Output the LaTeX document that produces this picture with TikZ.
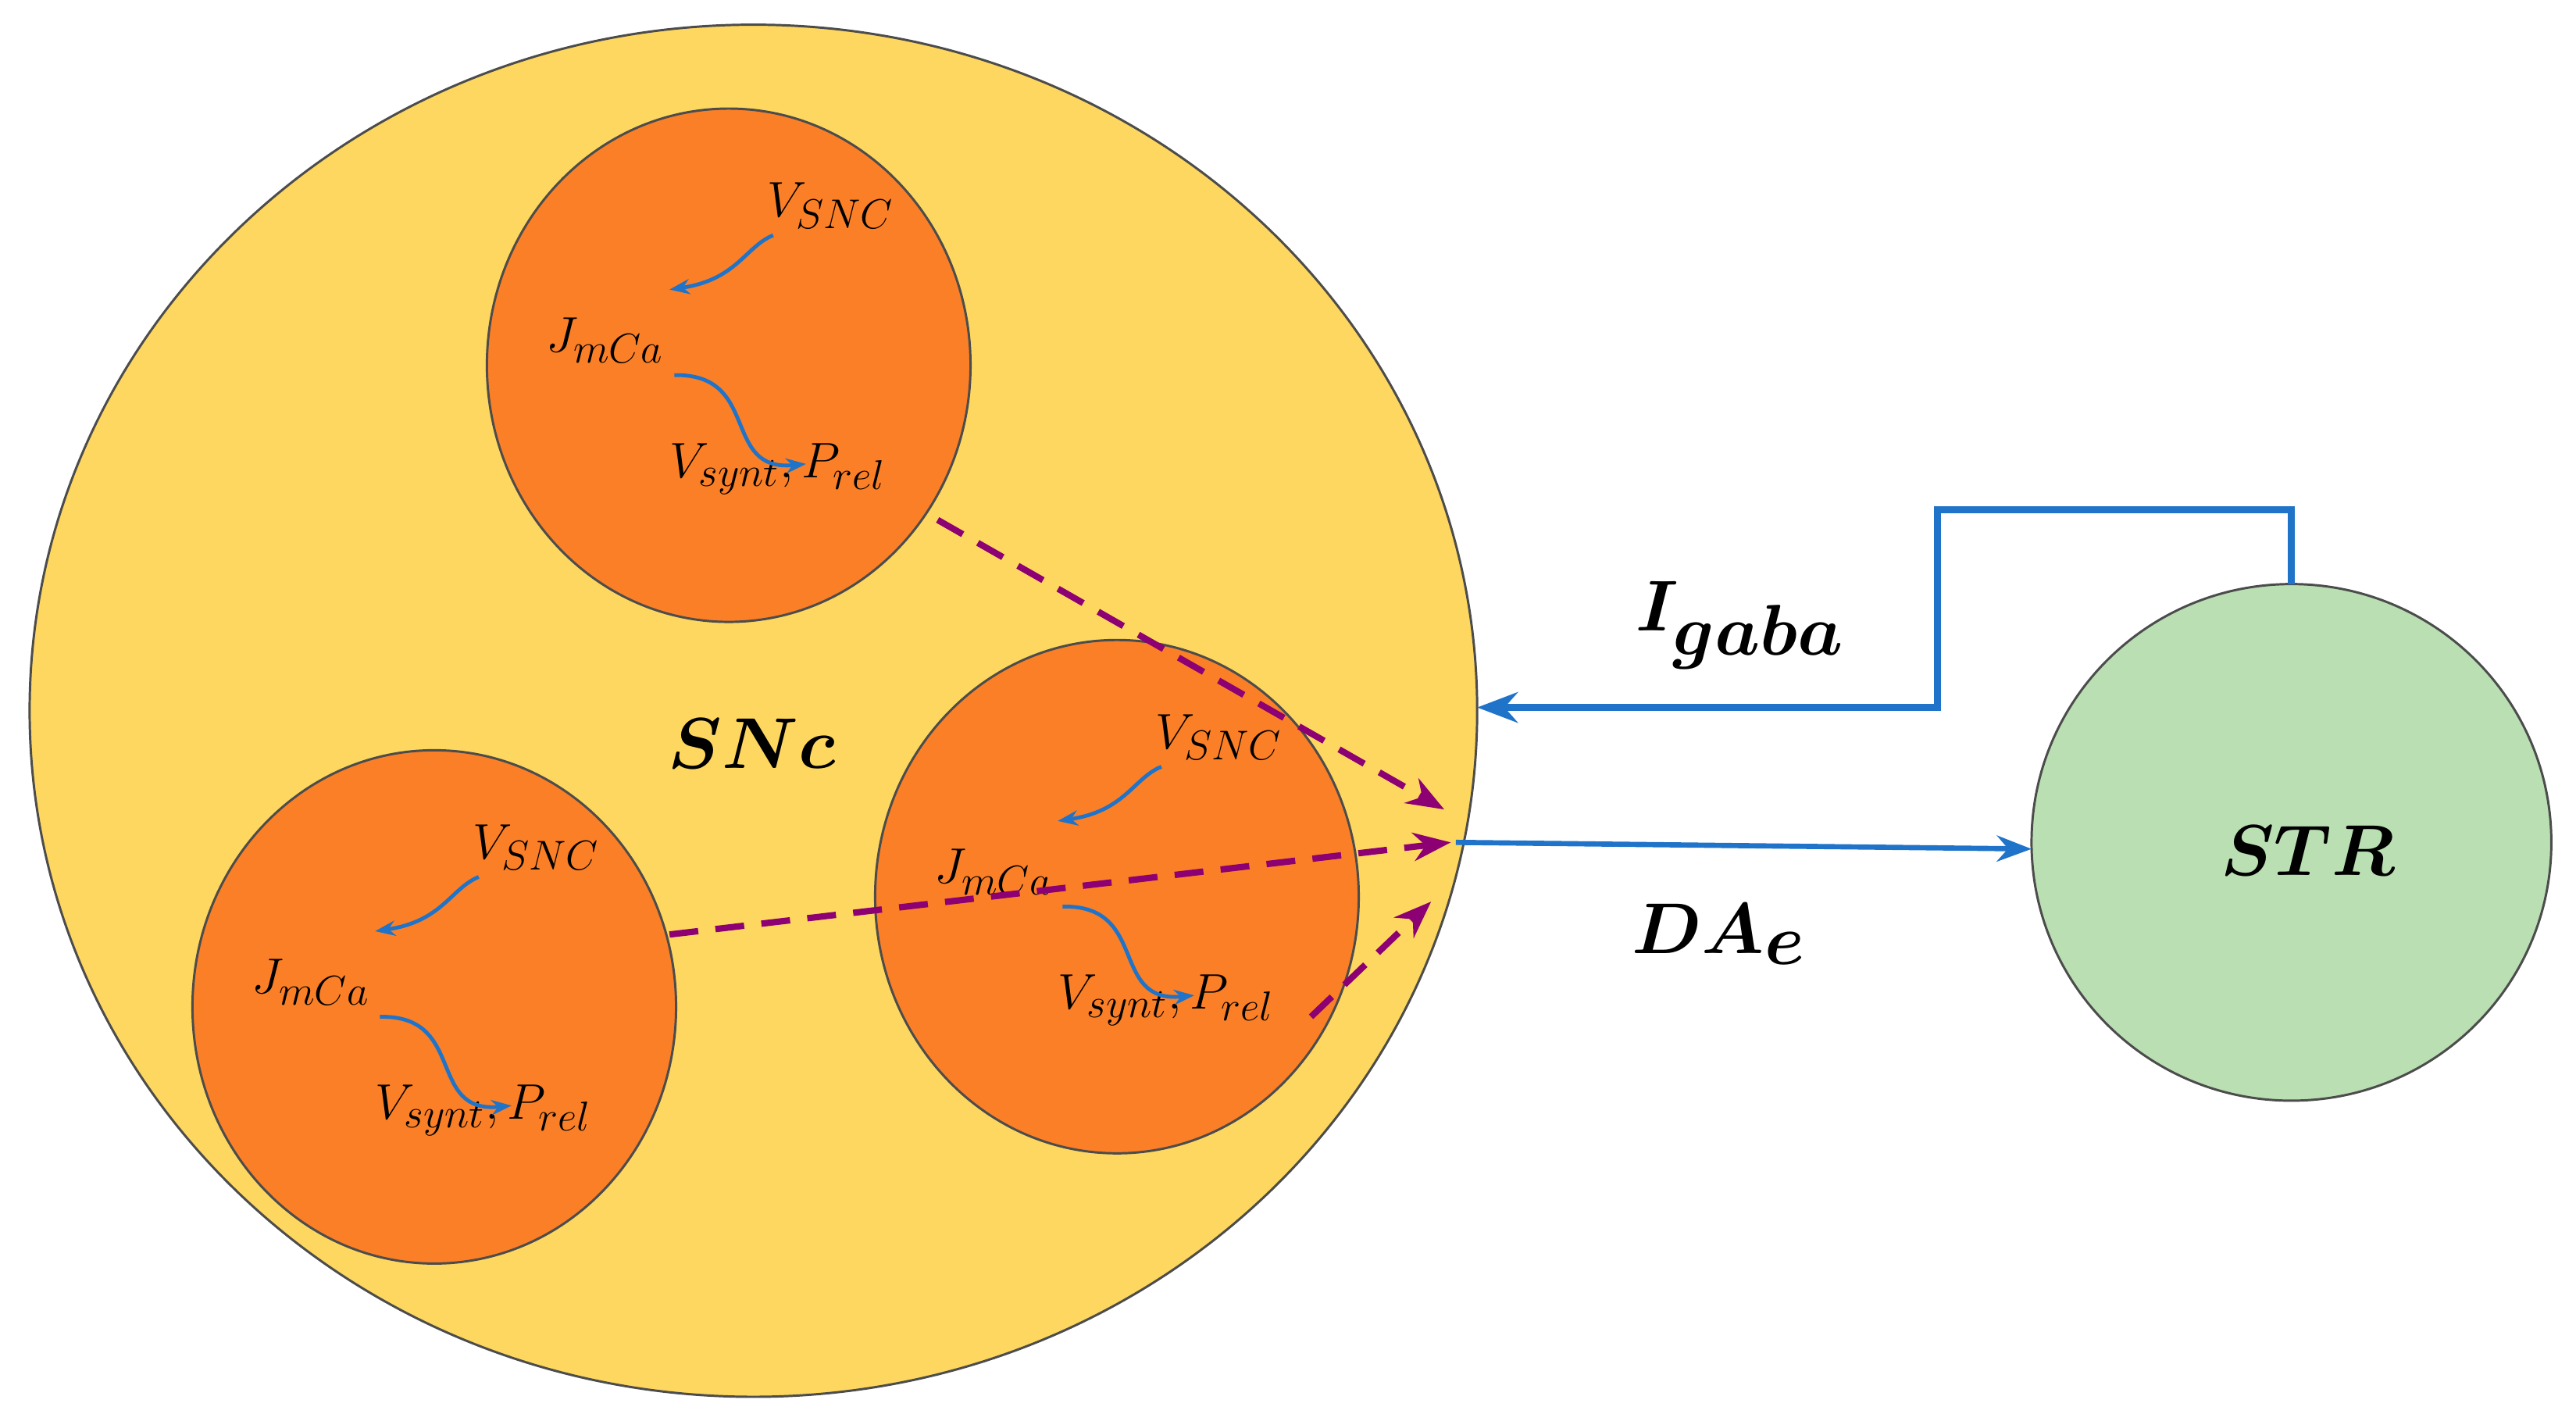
\documentclass[tikz,border=0pt]{standalone}
\usetikzlibrary{arrows.meta}
\begin{document}
\begin{tikzpicture}[x=0.02cm,y=-0.02cm,
  cell/.style={draw=black!70,fill=orange!85!red!90!yellow,ellipse,minimum width=294\pgflinewidth},
  lab/.style={font=\fontsize{19}{22}\selectfont},
  big/.style={font=\fontsize{34}{40}\selectfont\boldmath},
  bl/.style={draw=blue!60!cyan!80!black,line width=1.3pt,-{Stealth[length=7pt]}},
  pd/.style={draw=violet!80!purple,line width=2.2pt,dash pattern=on 10pt off 6pt,-{Stealth[length=13pt]}},
  fb/.style={draw=blue!60!cyan!80!black,line width=2.4pt}]
\useasboundingbox (0,0) rectangle (1566,859);
\definecolor{cellc}{HTML}{FA7F26}
\definecolor{snc}{HTML}{FDD75F}
\definecolor{strc}{HTML}{B9DFB3}
\definecolor{bluc}{HTML}{1F73C8}
\filldraw[fill=snc,draw=black!70,line width=0.8pt] (458,432) ellipse [x radius=440,y radius=417];
\node[big] (snc) at (457,452) {$SNc$};
\newcommand{\mycell}[3]{%
 \begin{scope}[shift={(#2,#3)}]
 \filldraw[fill=cellc,draw=black!70,line width=0.8pt] (0,0) ellipse [x radius=147,y radius=156];
 \node[lab] (#1v) at (62,-97) {$V_{SNC}$};
 \node[lab] (#1j) at (-75,-15) {$J_{mCa}$};
 \node[lab] (#1p) at (30,63) {$V_{synt},P_{rel}$};
 \draw[bl,draw=bluc] (27,-79) .. controls (10,-72) and (5,-52) .. (-36,-46);
 \draw[bl,draw=bluc] (-33,6) .. controls (20,5) and (-5,65) .. (47,60);
 \end{scope}}
\mycell{a}{443}{222}
\mycell{b}{264}{612}
\mycell{c}{679}{545}
\coordinate (t1) at (878,492);
\coordinate (t2) at (882,512);
\coordinate (t3) at (870,548);
\draw[pd] (570,316) -- (t1);
\draw[pd] (407,568) -- (t2);
\draw[pd] (797,618) -- (t3);
\filldraw[fill=strc,draw=black!70,line width=0.8pt] (1393,512) ellipse [x radius=158,y radius=157];
\node[big] (str) at (1403,517) {$STR$};
\coordinate (fbtop) at (1393,355);
\coordinate (sncR) at (898,430);
\draw[fb,draw=bluc,-{Stealth[length=14pt]}] (fbtop) -- (1393,310) -- (1178,310) -- (1178,430) -- (sncR);
\coordinate (daS) at (885,512);
\coordinate (strL) at (1235,516);
\draw[fb,draw=bluc,line width=1.8pt,-{Stealth[length=12pt]}] (daS) -- (strL);
\node[big] (ig) at (1058,380) {$I_{gaba}$};
\node[big] (da) at (1045,568) {$DA_{e}$};
\end{tikzpicture}
\end{document}
